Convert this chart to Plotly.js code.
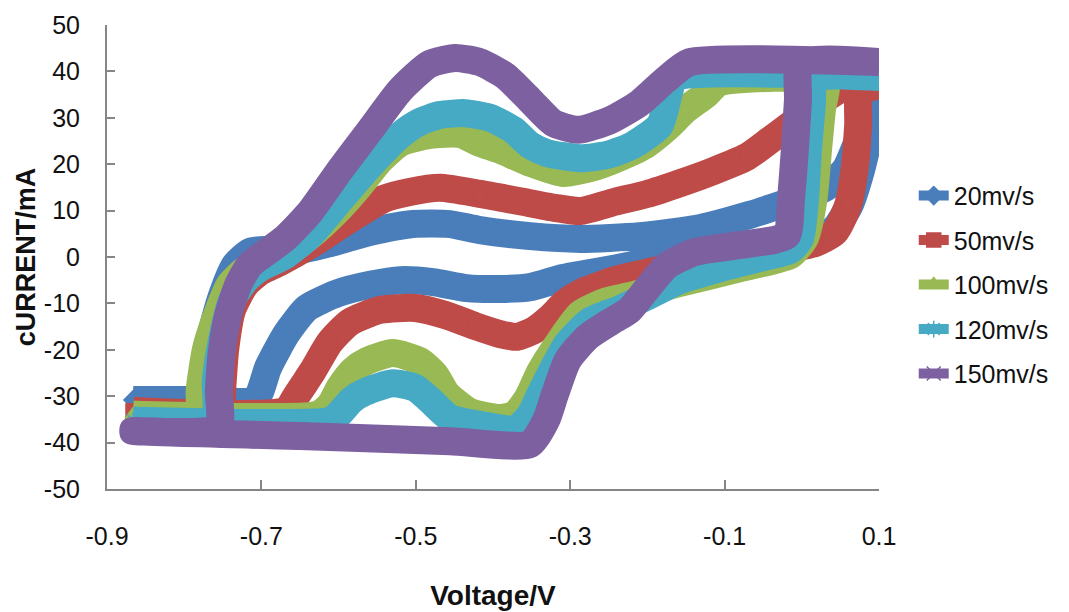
<!DOCTYPE html>
<html>
<head>
<meta charset="utf-8">
<script src="https://cdn.plot.ly/plotly-3.0.1.min.js"></script>
<style>html,body{margin:0;padding:0;background:#fff;}#chart{width:1069px;height:612px;}</style>
</head>
<body>
<div id="chart"></div>
<script>
// Series names
var seriesNames = ["20mv/s", "50mv/s", "100mv/s", "120mv/s", "150mv/s"];

// Tick labels
var xTickVals = [-0.9, -0.7, -0.5, -0.3, -0.1, 0.1];
var xTickText = ["-0.9", "-0.7", "-0.5", "-0.3", "-0.1", "0.1"];
var yTickVals = [-50, -40, -30, -20, -10, 0, 10, 20, 30, 40, 50];
var yTickText = ["-50", "-40", "-30", "-20", "-10", "0", "10", "20", "30", "40", "50"];

// 20 mv/s
var V20 = [-0.866,-0.780,-0.708,-0.691,-0.667,-0.641,-0.601,-0.559,-0.520,-0.478,-0.434,-0.391,-0.352,-0.309,-0.245,-0.158,-0.093,-0.028,0.017,0.043,0.062,0.075,0.086,0.095,0.100,
           0.088,0.073,0.056,0.030,-0.002,-0.028,-0.067,-0.132,-0.210,-0.287,-0.352,-0.417,-0.456,-0.504,-0.559,-0.611,-0.663,-0.695,-0.715,-0.734,-0.752,-0.767,-0.776,-0.780,-0.866];
var I20 = [-30.8,-30.8,-30.8,-23.7,-16.4,-11.0,-7.8,-6.0,-5.0,-5.4,-6.7,-6.9,-6.5,-4.5,-2.6,0.4,1.1,1.9,3.7,6.2,11.2,17.7,25.2,32.8,34.9,
           31.7,25.2,18.8,14.9,12.7,11.2,9.1,6.2,4.5,3.9,4.5,5.8,7.1,7.1,5.4,3.0,1.1,1.5,1.1,-1.7,-8.8,-17.9,-27.6,-30.8,-30.8];

// 50 mv/s
var V50 = [-0.866,-0.669,-0.654,-0.633,-0.611,-0.585,-0.546,-0.501,-0.462,-0.423,-0.391,-0.369,-0.346,-0.326,-0.307,-0.287,-0.242,-0.197,-0.132,-0.074,-0.028,0.017,0.043,0.060,0.069,0.073,0.075,0.100,
           0.062,0.037,0.011,-0.015,-0.041,-0.071,-0.115,-0.158,-0.200,-0.242,-0.287,-0.320,-0.352,-0.417,-0.469,-0.508,-0.542,-0.585,-0.637,-0.676,-0.702,-0.721,-0.738,-0.747,-0.751,-0.754,-0.866];
var I50 = [-33.2,-33.2,-29.7,-24.4,-18.3,-14.0,-11.4,-11.0,-12.5,-14.9,-16.6,-17.2,-15.7,-13.1,-9.9,-7.8,-5.0,-3.2,-1.1,0.4,1.5,3.0,5.4,11.2,19.8,28.4,35.6,37.1,
           37.1,34.9,31.7,28.4,25.2,21.6,18.5,15.9,13.6,11.9,9.9,10.6,11.6,13.6,14.9,14.0,12.5,8.2,2.6,-1.1,-3.2,-6.0,-11.4,-20.0,-28.7,-33.2,-33.2];

// 100 mv/s
var V100 = [-0.866,-0.628,-0.611,-0.598,-0.581,-0.563,-0.530,-0.495,-0.475,-0.460,-0.430,-0.391,-0.372,-0.355,-0.339,-0.317,-0.287,-0.252,-0.222,-0.158,-0.080,-0.015,0.004,0.015,0.021,0.026,0.030,
            -0.106,-0.125,-0.151,-0.175,-0.203,-0.223,-0.265,-0.309,-0.352,-0.391,-0.417,-0.443,-0.482,-0.520,-0.546,-0.572,-0.598,-0.631,-0.663,-0.695,-0.721,-0.741,-0.760,-0.772,-0.780,-0.782,-0.866];
var I100 = [-34.0,-34.0,-31.9,-28.0,-24.4,-22.4,-20.7,-22.4,-25.4,-29.5,-33.4,-34.7,-34.0,-30.4,-24.8,-19.0,-12.3,-9.5,-8.4,-5.6,-2.4,0.4,4.1,12.3,23.1,31.7,37.7,
            37.7,34.9,31.7,27.8,24.1,22.4,19.6,18.1,20.3,23.1,24.6,26.5,26.3,24.6,20.9,15.5,10.6,5.4,1.5,-1.1,-2.8,-6.0,-13.6,-20.0,-28.7,-34.0,-34.0];

// 120 mv/s
var V120 = [-0.866,-0.611,-0.598,-0.583,-0.566,-0.530,-0.501,-0.482,-0.456,-0.417,-0.371,-0.352,-0.339,-0.326,-0.304,-0.274,-0.235,-0.197,-0.158,-0.106,-0.054,-0.015,-0.002,0.004,0.008,0.013,0.017,0.100,
            -0.164,-0.172,-0.184,-0.219,-0.252,-0.287,-0.330,-0.352,-0.374,-0.404,-0.436,-0.469,-0.495,-0.520,-0.559,-0.598,-0.637,-0.669,-0.702,-0.721,-0.738,-0.751,-0.759,-0.761,-0.866];
var I120 = [-35.3,-35.3,-33.6,-30.8,-29.1,-27.2,-28.2,-30.8,-34.7,-36.2,-37.1,-34.1,-29.7,-25.4,-18.8,-13.8,-11.2,-8.2,-5.0,-2.4,-0.2,1.5,4.1,12.3,23.1,32.8,38.6,38.8,
            38.8,35.5,28.4,24.1,22.0,21.3,22.4,24.1,27.4,30.0,31.0,30.6,29.1,26.3,19.8,12.3,4.7,0.4,-2.4,-5.0,-9.3,-17.9,-26.5,-35.3,-35.3];

// 150 mv/s
var V150 = [-0.866,-0.650,-0.456,-0.352,-0.331,-0.320,-0.303,-0.277,-0.248,-0.223,-0.199,-0.175,-0.138,-0.080,-0.035,-0.019,-0.014,-0.009,-0.005,-0.002,0.100,
            -0.145,-0.177,-0.210,-0.248,-0.290,-0.322,-0.352,-0.384,-0.417,-0.449,-0.482,-0.520,-0.559,-0.598,-0.637,-0.669,-0.693,-0.715,-0.730,-0.743,-0.751,-0.755,-0.756,-0.866];
var I150 = [-37.5,-38.6,-39.7,-40.3,-35.1,-29.7,-22.2,-17.2,-14.0,-11.4,-6.5,-1.9,1.1,2.6,3.7,4.7,12.3,23.1,33.8,42.0,42.0,
            42.0,38.1,33.2,29.5,27.4,28.9,33.8,39.0,42.0,42.9,41.6,36.0,27.4,18.8,9.7,4.1,1.1,-1.7,-6.0,-12.5,-20.0,-28.7,-36.9,-37.5];

var xs = [V20, V50, V100, V120, V150];
var ys = [I20, I50, I100, I120, I150];
var colors = ["#4a7ebb", "#be4b48", "#98b954", "#46aac5", "#7d60a0"];
var symbols = ["diamond", "square", "triangle-up", "asterisk-open", "x-thin-open"];

var traces = [];
for (var k = 0; k < 5; k++) {
  traces.push({
    type: "scatter",
    mode: "lines+markers",
    name: seriesNames[k],
    legendgroup: "g" + k,
    x: xs[k],
    y: ys[k],
    line: {color: colors[k], width: 28, shape: "spline", smoothing: 0.6},
    marker: {symbol: symbols[k], size: 14, color: colors[k], line: {color: colors[k], width: 1.5}}
  });
}

var baseFamily = "Liberation Sans, Arial, sans-serif";
var tickFont = {family: baseFamily, size: 25, color: "#111111"};
var titleFont = {family: baseFamily, size: 27, color: "#111111", weight: "bold"};

var layout = {
  width: 1069,
  height: 612,
  margin: {l: 107, r: 190, t: 25, b: 123},
  paper_bgcolor: "#ffffff",
  plot_bgcolor: "#ffffff",
  showlegend: true,
  legend: {
    x: 1.045, y: 0.44, xanchor: "left", yanchor: "middle",
    font: {family: baseFamily, size: 25, color: "#111111"},
    tracegroupgap: 9,
    bgcolor: "rgba(0,0,0,0)"
  },
  xaxis: {
    range: [-0.9, 0.1],
    tickmode: "array", tickvals: xTickVals, ticktext: xTickText,
    showline: true, linecolor: "#868686", linewidth: 2,
    ticks: "inside", ticklen: 9, tickwidth: 2, tickcolor: "#868686",
    showgrid: false, zeroline: false,
    tickfont: tickFont,
    ticklabelstandoff: 24,
    title: {text: "Voltage/V", font: {family: baseFamily, size: 28, color: "#111111", weight: "bold"}, standoff: 36}
  },
  yaxis: {
    range: [-50, 50],
    tickmode: "array", tickvals: yTickVals, ticktext: yTickText,
    showline: true, linecolor: "#868686", linewidth: 2,
    ticks: "inside", ticklen: 8, tickwidth: 2, tickcolor: "#868686",
    showgrid: false, zeroline: false,
    tickfont: tickFont,
    ticklabelstandoff: 20,
    title: {text: "cURRENT/mA", font: titleFont, standoff: 0}
  }
};

Plotly.newPlot("chart", traces, layout, {displayModeBar: false, staticPlot: true});
</script>
</body>
</html>
